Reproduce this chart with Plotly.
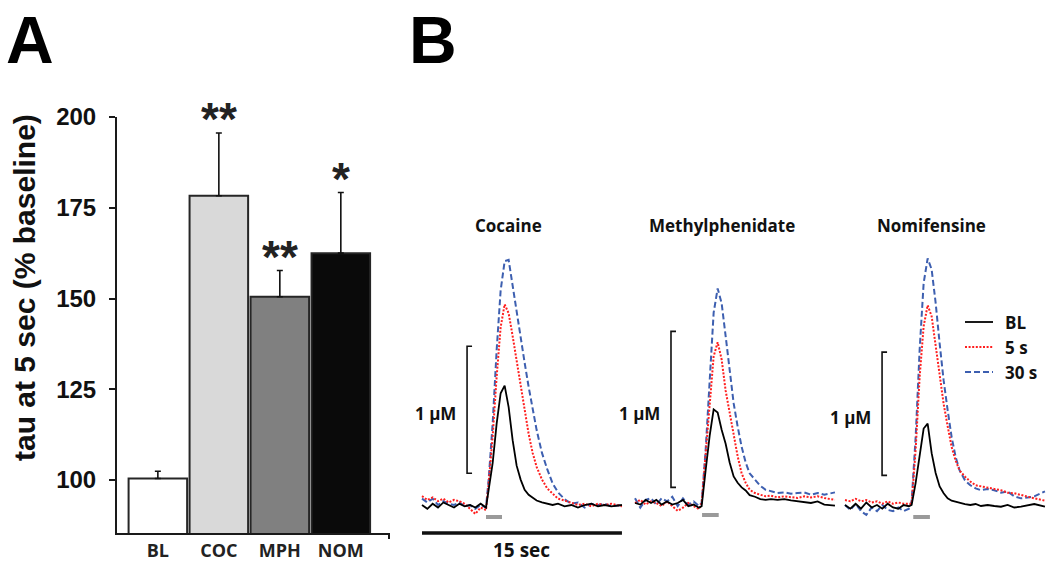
import plotly.graph_objects as go

W, H = 1050, 563


def px(x):
    return x / W


def py(y):
    return 1 - y / H


# ---------------- Panel A data ----------------
categories = ["BL", "COC", "MPH", "NOM"]
tau_pct = [100.4, 178.3, 150.5, 162.5]
tau_sem = [2.0, 17.3, 7.2, 16.7]
signif = ["", "**", "**", "*"]
yticks = [100, 125, 150, 175, 200]
bar_colors = ["#ffffff", "#d9d9d9", "#808080", "#0a0a0a"]

# ---------------- Panel B data (time in s, DA in uM) ----------------
time_s = [0.0, 0.4, 0.8, 1.2, 1.6, 2.0, 2.4, 2.8, 3.2, 3.6, 4.0, 4.4, 4.8,
          5.0, 5.3, 5.6, 5.9, 6.2, 6.5, 6.8, 7.1, 7.4, 7.7, 8.0, 8.3, 8.6, 9.0, 9.4, 9.8,
          10.2, 10.7, 11.2, 11.7, 12.2, 12.7, 13.2, 13.7, 14.2, 15.0]

panels = ["Cocaine", "Methylphenidate", "Nomifensine"]
conditions = ["BL", "5 s", "30 s"]

coc_bl = [0.0, -0.03, 0.01, -0.02, 0.02, 0.0, -0.02, 0.01, -0.01, 0.0, -0.02, 0.01, -0.02,
          0.12, 0.33, 0.64, 0.88, 0.94, 0.77, 0.51, 0.31, 0.20, 0.12, 0.08, 0.06, 0.035, 0.02, 0.01, 0.0,
          0.01, -0.01, 0.0, -0.02, 0.0, 0.01, -0.01, 0.0, -0.01, 0.0]
coc_5s = [0.07, 0.04, 0.06, 0.03, 0.05, 0.02, 0.04, 0.03, 0.01, -0.03, -0.07, -0.02, -0.04,
          0.17, 0.54, 1.01, 1.40, 1.58, 1.51, 1.33, 1.14, 0.93, 0.75, 0.56, 0.41, 0.30, 0.20, 0.13, 0.09,
          0.05, 0.035, 0.02, 0.0, 0.01, -0.01, 0.01, 0.0, 0.01, -0.01]
coc_30s = [0.05, 0.02, 0.05, 0.0, 0.03, 0.01, 0.0, 0.02, -0.01, 0.0, -0.03, 0.0, -0.02,
           0.20, 0.64, 1.22, 1.69, 1.92, 1.93, 1.72, 1.51, 1.30, 1.12, 0.93, 0.75, 0.59, 0.41, 0.28, 0.17,
           0.10, 0.045, 0.01, 0.02, -0.02, 0.01, 0.0, 0.01, -0.01, 0.0]

mph_bl = [0.0, -0.01, 0.02, 0.0, 0.02, -0.01, 0.01, -0.01, 0.0, 0.02, -0.02, -0.01, -0.03,
          -0.02, 0.21, 0.43, 0.60, 0.58, 0.47, 0.38, 0.26, 0.17, 0.13, 0.10, 0.08, 0.05, 0.04, 0.025, 0.02,
          0.025, 0.02, 0.025, 0.017, 0.01, 0.006, 0.0, 0.01, -0.01, -0.017]
mph_5s = [0.0, 0.02, -0.01, 0.01, 0.0, -0.02, 0.01, -0.02, -0.05, -0.03, 0.0, -0.02, -0.04,
          0.0, 0.30, 0.64, 0.94, 1.03, 0.92, 0.72, 0.58, 0.43, 0.30, 0.19, 0.13, 0.085, 0.064, 0.053, 0.043,
          0.047, 0.036, 0.043, 0.036, 0.032, 0.043, 0.036, 0.043, 0.032, 0.02]
mph_30s = [0.03, -0.03, 0.02, 0.03, -0.01, 0.03, 0.01, 0.04, -0.02, 0.03, -0.01, 0.01, -0.02,
           0.0, 0.34, 0.79, 1.22, 1.375, 1.28, 1.07, 0.85, 0.64, 0.49, 0.36, 0.26, 0.19, 0.15, 0.11, 0.085,
           0.075, 0.064, 0.068, 0.06, 0.064, 0.068, 0.053, 0.064, 0.053, 0.068]

nom_bl = [0.0, -0.03, 0.01, -0.03, 0.02, -0.02, 0.0, -0.03, 0.01, -0.02, -0.03, 0.0, -0.01,
          0.0, 0.18, 0.42, 0.62, 0.66, 0.42, 0.26, 0.15, 0.095, 0.054, 0.035, 0.027, 0.014, 0.008, 0.0, 0.008,
          -0.008, 0.0, -0.008, -0.014, 0.0, -0.02, -0.014, 0.0, 0.008, -0.014]
nom_5s = [0.04, 0.03, 0.05, 0.03, 0.04, 0.02, 0.03, 0.01, 0.03, 0.01, 0.02, 0.01, 0.01,
          0.01, 0.45, 1.04, 1.45, 1.62, 1.53, 1.28, 1.04, 0.82, 0.64, 0.47, 0.36, 0.28, 0.23, 0.19, 0.16,
          0.15, 0.14, 0.13, 0.12, 0.10, 0.095, 0.08, 0.07, 0.054, 0.035]
nom_30s = [0.0, -0.04, 0.01, -0.05, -0.08, -0.02, -0.05, 0.0, -0.04, -0.05, -0.02, -0.05, -0.03,
           0.03, 0.55, 1.26, 1.80, 2.0, 1.91, 1.64, 1.31, 1.01, 0.77, 0.55, 0.39, 0.28, 0.20, 0.16, 0.135,
           0.12, 0.13, 0.12, 0.10, 0.11, 0.07, 0.054, 0.06, 0.07, 0.11]

traces_by_panel = [
    {"BL": coc_bl, "5 s": coc_5s, "30 s": coc_30s},
    {"BL": mph_bl, "5 s": mph_5s, "30 s": mph_30s},
    {"BL": nom_bl, "5 s": nom_5s, "30 s": nom_30s},
]
stim_s = [[4.8, 6.0], [5.03, 6.28], [5.12, 6.37]]
scale_uM = 1.0      # vertical scale bar
scale_s = 15.0      # horizontal scale bar

# ---------------- styles / geometry ----------------
line_styles = {
    "BL": dict(color="#000000", width=1.8, dash="solid"),
    "5 s": dict(color="#ff1f1f", width=2.0, dash="2px,1.6px"),
    "30 s": dict(color="#3d5fb0", width=2.0, dash="6px,3px"),
}
PXS = 13.33  # pixels per second
geo = [
    dict(x0=422, base=505, pxum=127.0, br_t=3.38, br_lo=0.25),
    dict(x0=635, base=503, pxum=156.0, br_t=2.70, br_lo=0.10),
    dict(x0=845, base=505, pxum=123.3, br_t=2.78, br_lo=0.24),
]
SANS_A = "Liberation Sans, Arial, sans-serif"
SANS_B = "Open Sans, sans-serif"

fig = go.Figure()

# ---------------- Panel A ----------------
fig.add_trace(go.Bar(
    x=categories, y=tau_pct, width=0.96,
    marker=dict(color=bar_colors, line=dict(color="#262626", width=2)),
    error_y=dict(type="data", symmetric=False, array=tau_sem, arrayminus=[0] * 4,
                 color="#111111", thickness=1.6, width=3),
    xaxis="x", yaxis="y", showlegend=False, hoverinfo="x+y",
))

fig.update_layout(
    xaxis=dict(domain=[px(117), px(389)], range=[-0.67, 3.79], anchor="y", automargin=False,
               showline=True, linecolor="#1a1a1a", linewidth=2, ticks="",
               showgrid=False, zeroline=False, ticklabelstandoff=0,
               tickfont=dict(family=SANS_B, size=18, color="#222222", weight="bold")),
    yaxis=dict(domain=[py(533), py(117)], range=[85.4, 200], anchor="x", automargin=False,
               tickvals=yticks, showline=True, linecolor="#1a1a1a", linewidth=2,
               ticks="outside", ticklen=6, tickwidth=2, tickcolor="#1a1a1a",
               showgrid=False, zeroline=False, ticklabelstandoff=8,
               tickfont=dict(family=SANS_A, size=24, color="#111111", weight="bold")),
)

annotations = []
shapes = []

for i, s in enumerate(signif):
    if s:
        annotations.append(dict(x=categories[i], y=tau_pct[i] + tau_sem[i], xref="x", yref="y",
                                text=s, showarrow=False, yanchor="bottom", yshift=-14,
                                font=dict(family=SANS_A, size=46, color="#222222", weight="bold")))

annotations.append(dict(x=px(24), y=py(288), xref="paper", yref="paper", xanchor="center",
                        yanchor="middle", text="tau at 5 sec (% baseline)", textangle=-90,
                        showarrow=False,
                        font=dict(family=SANS_A, size=30, color="#111111", weight="bold")))
annotations.append(dict(x=px(4), y=py(40), xref="paper", yref="paper", xanchor="left",
                        yanchor="middle", text="A", showarrow=False,
                        font=dict(family=SANS_A, size=66, color="#000000", weight="bold")))
annotations.append(dict(x=px(407), y=py(40), xref="paper", yref="paper", xanchor="left",
                        yanchor="middle", text="B", showarrow=False,
                        font=dict(family=SANS_A, size=66, color="#000000", weight="bold")))
shapes.append(dict(type="line", xref="paper", yref="paper", x0=px(389), x1=px(389),
                   y0=py(533), y1=py(539), line=dict(color="#1a1a1a", width=2)))

# ---------------- Panel B ----------------
for k, name in enumerate(panels):
    g = geo[k]
    xa = "x%d" % (k + 2)
    ya = "y%d" % (k + 2)
    left, right, top, bottom = g["x0"] - 12, min(g["x0"] + 212, W), 235, 548
    fig.layout["xaxis%d" % (k + 2)] = dict(
        domain=[px(left), px(right)], range=[(left - g["x0"]) / PXS, (right - g["x0"]) / PXS],
        anchor=ya, visible=False, automargin=False)
    fig.layout["yaxis%d" % (k + 2)] = dict(
        domain=[py(bottom), py(top)],
        range=[(g["base"] - bottom) / g["pxum"], (g["base"] - top) / g["pxum"]],
        anchor=xa, visible=False, automargin=False)
    for cond in ["30 s", "5 s", "BL"]:
        fig.add_trace(go.Scatter(
            x=time_s, y=traces_by_panel[k][cond], mode="lines", name=cond,
            line=line_styles[cond], xaxis=xa, yaxis=ya, showlegend=False))
    # stimulation bar
    ystim = -12.0 / g["pxum"]
    shapes.append(dict(type="line", xref=xa, yref=ya, x0=stim_s[k][0], x1=stim_s[k][1],
                       y0=ystim, y1=ystim, line=dict(color="#9a9a9a", width=4)))
    # 1 uM bracket
    bt, lo = g["br_t"], g["br_lo"]
    tick = 5.0 / PXS
    shapes.append(dict(type="path", xref=xa, yref=ya,
                       path="M %f,%f L %f,%f L %f,%f L %f,%f" % (bt + tick, lo, bt, lo, bt,
                                                                  lo + scale_uM, bt + tick, lo + scale_uM),
                       line=dict(color="#111111", width=1.6)))
    annotations.append(dict(x=bt, y=lo + scale_uM / 2, xref=xa, yref=ya, xanchor="right",
                            xshift=-9, yshift=-4, text="1 µM", showarrow=False,
                            font=dict(family=SANS_B, size=17, color="#111111", weight="bold")))
    # title
    annotations.append(dict(x=6.5, y=py(225), xref=xa, yref="paper", text=name, showarrow=False,
                            font=dict(family=SANS_B, size=17, color="#111111", weight="bold")))

# 15 s scale bar (cocaine panel)
yb = -28.0 / geo[0]["pxum"]
shapes.append(dict(type="line", xref="x2", yref="y2", x0=0, x1=scale_s, y0=yb, y1=yb,
                   line=dict(color="#111111", width=3.5)))
annotations.append(dict(x=scale_s / 2, y=yb, xref="x2", yref="y2", yshift=-17,
                        text="15 sec", showarrow=False,
                        font=dict(family=SANS_B, size=19, color="#111111", weight="bold")))

# legend (drawn manually)
leg_y = [322, 347, 372]
for cond, yy in zip(conditions, leg_y):
    st = line_styles[cond]
    shapes.append(dict(type="line", xref="paper", yref="paper", x0=px(965), x1=px(993),
                       y0=py(yy), y1=py(yy),
                       line=dict(color=st["color"], width=st["width"], dash=st["dash"])))
    annotations.append(dict(x=px(1003), y=py(yy), xref="paper", yref="paper", xanchor="left",
                            text=cond, showarrow=False,
                            font=dict(family=SANS_B, size=17, color="#111111", weight="bold")))

fig.update_layout(
    template="none",
    width=W, height=H, margin=dict(l=0, r=0, t=0, b=0, pad=0, autoexpand=False),
    paper_bgcolor="white", plot_bgcolor="white",
    annotations=annotations, shapes=shapes, showlegend=False,
)

fig.write_html("out.html", config={"displayModeBar": False},
               post_script="document.body.style.margin='0';document.body.style.overflow='hidden';")
